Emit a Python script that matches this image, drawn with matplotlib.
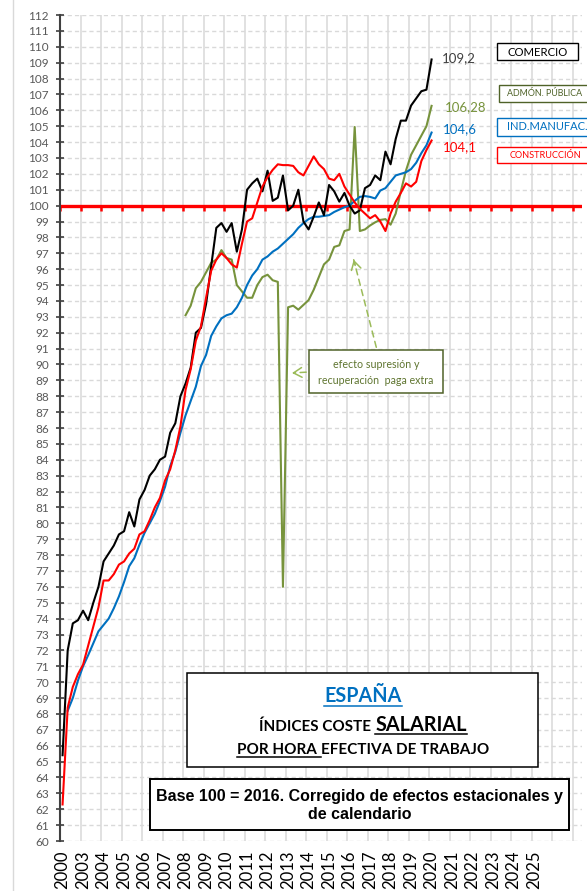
import numpy as np
import matplotlib
matplotlib.use('Agg')
import matplotlib.pyplot as plt
from matplotlib.patches import Rectangle
from matplotlib.lines import Line2D

plt.rcParams['font.family'] = ['Lato', 'DejaVu Sans']

# quarterly index values (first point of each series at its start position)
comercio = [65.4, 72.0, 73.7, 73.9, 74.5, 73.9, 75.0, 76.0, 77.6, 78.1,
            78.6, 79.3, 79.5, 80.7, 79.8, 81.5, 82.1, 83.0, 83.4, 84.0,
            84.2, 85.7, 86.3, 88.0, 88.8, 89.8, 92.0, 92.3, 93.8, 96.2,
            98.6, 98.9, 98.35, 98.9, 97.1, 98.5, 101.0, 101.4, 101.7, 100.9,
            102.2, 100.3, 100.5, 101.9, 99.7, 100.0, 101.0, 99.0, 98.5, 99.3,
            100.2, 99.4, 101.3, 100.9, 100.25, 100.8, 100.0, 99.5, 99.7, 101.1,
            101.3, 101.9, 101.6, 103.4, 102.6, 104.2, 105.35, 105.35, 106.3, 106.75,
            107.2, 107.3, 109.2]
construccion = [62.3, 68.4, 69.7, 70.5, 71.1, 72.3, 73.5, 74.7, 76.4, 76.4,
                76.8, 77.4, 77.6, 78.1, 78.4, 79.3, 79.5, 80.2, 81.0, 81.6,
                82.7, 83.4, 84.6, 86.1, 88.4, 89.7, 91.5, 92.4, 94.2, 95.9,
                96.6, 97.0, 96.7, 96.3, 96.1, 97.6, 99.0, 99.2, 100.2, 101.2,
                101.8, 102.25, 102.6, 102.55, 102.55, 102.5, 102.1, 101.9, 102.5, 103.1,
                102.6, 102.3, 101.7, 101.6, 102.0, 101.2, 100.7, 100.2, 99.8, 99.5,
                99.2, 99.4, 99.0, 98.4, 99.5, 100.25, 100.8, 101.4, 101.2, 101.5,
                102.8, 103.5, 104.1]
manufactura_start = 1
manufactura = [68.2, 69.0, 70.1, 71.0, 71.7, 72.45, 73.2, 73.6, 74.0, 74.65,
               75.4, 76.3, 77.3, 77.8, 78.65, 79.4, 80.0, 80.6, 81.4, 82.3,
               83.6, 84.5, 85.7, 86.8, 87.7, 88.6, 89.9, 90.6, 91.8, 92.4,
               92.9, 93.1, 93.2, 93.6, 94.2, 95.0, 95.6, 96.0, 96.6, 96.8,
               97.1, 97.3, 97.6, 97.9, 98.2, 98.6, 98.9, 99.15, 99.3, 99.3,
               99.35, 99.4, 99.6, 99.75, 99.9, 100.0, 100.3, 100.55, 100.6, 100.55,
               100.45, 100.95, 101.1, 101.5, 101.9, 102.0, 102.1, 102.3, 102.7, 103.3,
               103.8, 104.6]
admon_start = 24
admon_publica = [93.1, 93.7, 94.8, 95.2, 95.8, 96.4, 96.6, 97.2, 96.7, 96.6,
                 95.0, 94.6, 94.2, 94.2, 95.0, 95.5, 95.65, 95.3, 95.2, 76.0,
                 93.6, 93.7, 93.45, 93.75, 94.05, 94.7, 95.5, 96.3, 96.6, 97.4,
                 97.5, 98.4, 98.5, 104.95, 98.4, 98.5, 98.75, 98.95, 99.1, 99.15,
                 98.8, 99.5, 100.9, 102.2, 103.2, 103.8, 104.4, 105.0, 106.28]
year_labels = ['2000', '2003', '2004', '2005', '2006', '2007', '2008', '2009',
               '2010', '2011', '2012', '2013', '2014', '2015', '2016', '2017',
               '2018', '2019', '2020', '2021', '2022', '2023', '2024', '2025']
end_labels = ['109,2', '106,28', '104,6', '104,1']

C_BLACK = '#000000'
C_GREEN = '#77933c'
C_BLUE = '#0070c0'
C_RED = '#ff0000'

W, H = 587, 891
fig = plt.figure(figsize=(W / 100, H / 100), dpi=100)
ax = fig.add_axes([60 / W, 1 - 841 / H, (582 - 60) / W, (841 - 15) / H])


def fx(x):
    return x / W


def fy(y):
    return 1 - y / H


x_com = np.arange(len(comercio))
x_con = np.arange(len(construccion))
x_man = np.arange(len(manufactura)) + manufactura_start
x_adm = np.arange(len(admon_publica)) + admon_start

ax.plot(x_adm, admon_publica, color=C_GREEN, lw=1.5, zorder=3)
ax.plot(x_man, manufactura, color=C_BLUE, lw=1.5, zorder=3)
ax.plot(x_com, comercio, color=C_BLACK, lw=1.5, zorder=3)
ax.plot(x_con, construccion, color=C_RED, lw=1.5, zorder=3)

ax.set_xlim(-0.5, 101.35)
ax.set_ylim(60, 112)

# axes / grid
grid_x = np.arange(-0.5, 101, 4)
ax.set_xticks(np.arange(0, 4 * len(year_labels), 4))
ax.set_xticklabels(year_labels, rotation=90, fontsize=12)
ax.set_xticks(grid_x, minor=True)
ax.tick_params(axis='x', which='both', length=0, pad=7)
ax.set_yticks(np.arange(60, 113, 1))
ax.tick_params(axis='y', direction='inout', length=6, width=1.2, color='#404040',
               labelsize=8.5, labelcolor='#595959', pad=5)
ax.xaxis.grid(True, which='minor', color='#d9d9d9', lw=1.1, ls='-')
ax.xaxis.grid(False, which='major')
ax.yaxis.grid(True, which='major', color='#d9d9d9', lw=1.0, ls=(0, (3, 2.2)))
ax.set_axisbelow(True)
for s in ['top', 'right', 'bottom']:
    ax.spines[s].set_visible(False)
ax.spines['left'].set_color('#404040')
ax.spines['left'].set_linewidth(1.5)

# red base line at 100 with its tick marks
ax.axhline(100, color=C_RED, lw=2.4, zorder=2.5)
ax.vlines(grid_x, 99.68, 100, color=C_RED, lw=1.8, zorder=2.5)

# end value labels
ends = [(comercio, x_com, end_labels[0], '#404040', (10, 1.5)),
        (admon_publica, x_adm, end_labels[1], C_GREEN, (13, -1)),
        (manufactura, x_man, end_labels[2], C_BLUE, (11, 3.5)),
        (construccion, x_con, end_labels[3], C_RED, (11, -6.5))]
for vals, xs, lab, col, off in ends:
    ax.annotate(lab, xy=(xs[-1], vals[-1]), xytext=off, textcoords='offset pixels',
                ha='left', va='center', fontsize=9.5, color=col)


def pbox(x0, y0, x1, y1, ec, lw):
    fig.add_artist(Rectangle((fx(x0), fy(y1)), (x1 - x0) / W, (y1 - y0) / H,
                             transform=fig.transFigure, fc='white', ec=ec, lw=lw,
                             zorder=5, clip_on=False))


# series name boxes on the right
pbox(497, 43, 578, 60, '#000000', 1.0)
fig.text(fx(537.5), fy(52), 'COMERCIO', ha='center', va='center', fontsize=8.2,
         color='#000000', zorder=6)
pbox(499, 85, 600, 102, '#4f6228', 1.0)
fig.text(fx(507), fy(93.5), 'ADMÓN. PÚBLICA', ha='left', va='center', fontsize=6.4,
         color='#4f6228', zorder=6)
pbox(497, 118, 600, 136, C_BLUE, 1.0)
fig.text(fx(507), fy(127), 'IND.MANUFAC.', ha='left', va='center', fontsize=8,
         color=C_BLUE, zorder=6)
pbox(497, 147, 600, 163, C_RED, 1.0)
fig.text(fx(510), fy(155), 'CONSTRUCCIÓN', ha='left', va='center', fontsize=6.6,
         color=C_RED, zorder=6)

# annotation about the extra pay
pbox(309, 350, 443, 393, '#4f6228', 1.1)
fig.text(fx(376), fy(365), 'efecto supresión y', ha='center', va='center',
         fontsize=7.7, color='#5f7530', zorder=6)
fig.text(fx(376), fy(380), 'recuperación  paga extra', ha='center', va='center',
         fontsize=7.7, color='#5f7530', zorder=6)
arr_col = '#9bbb59'
for tail, head in [((309, 372), (292, 373)), ((377, 350), (353, 257))]:
    ax.annotate('', xy=(head[0], H - head[1]), xytext=(tail[0], H - tail[1]),
                xycoords='figure pixels', textcoords='figure pixels',
                arrowprops=dict(arrowstyle='-', color=arr_col, lw=1.1, ls=(0, (4, 3))))
    hx = head[0] + (tail[0] - head[0]) * 0.12
    hy = head[1] + (tail[1] - head[1]) * 0.12
    ax.annotate('', xy=(head[0], H - head[1]), xytext=(hx, H - hy),
                xycoords='figure pixels', textcoords='figure pixels',
                arrowprops=dict(arrowstyle='->,head_length=0.6,head_width=0.35',
                                color=arr_col, lw=1.1))

# title boxes
renderer = fig.canvas.get_renderer()


def text_width(s, size, family):
    probe = fig.text(0, 0, s + '|', fontsize=size, fontweight='bold', family=family)
    bar = fig.text(0, 0, '|', fontsize=size, fontweight='bold', family=family)
    w = probe.get_window_extent(renderer).width - bar.get_window_extent(renderer).width
    probe.remove()
    bar.remove()
    return w


def rich_line(parts, xc, y_base, ul_y, family=('Lato', 'DejaVu Sans')):
    family = list(family)
    widths = [text_width(s, size, family) for s, size, col, ul in parts]
    x = xc - sum(widths) / 2
    for (s, size, col, ul), w in zip(parts, widths):
        fig.text(fx(x), fy(y_base), s, fontsize=size, fontweight='bold', color=col,
                 family=family, ha='left', va='baseline', zorder=6)
        if ul:
            fig.add_artist(Line2D([fx(x), fx(x + w)], [fy(ul_y), fy(ul_y)],
                                  transform=fig.transFigure, color=col, lw=1.1, zorder=6))
        x += w


pbox(187, 673, 538, 767, '#000000', 1.1)
rich_line([('ESPAÑA', 14.2, C_BLUE, True)], 363, 702, 705.5)
rich_line([('ÍNDICES COSTE ', 11, '#000000', False),
           ('SALARIAL', 14.3, '#000000', True)], 363, 731, 733.5)
rich_line([('POR HORA ', 11, '#000000', True),
           ('EFECTIVA DE TRABAJO', 11, '#000000', False)], 363, 754, 757)

pbox(150, 779, 569, 830, '#000000', 1.4)
for txt, yb in [('Base 100 = 2016. Corregido de efectos estacionales y', 796),
                ('de calendario', 814.5)]:
    fig.text(fx(359.5), fy(yb), txt, ha='center', va='center', fontsize=11.5,
             fontweight='bold', family='Liberation Sans', color='#000000', zorder=6)

# chart area edge on the left
fig.add_artist(Line2D([fx(13), fx(13)], [0, 1], transform=fig.transFigure,
                      color='#d9d9d9', lw=1.0))

fig.savefig('out.png', dpi=100)
